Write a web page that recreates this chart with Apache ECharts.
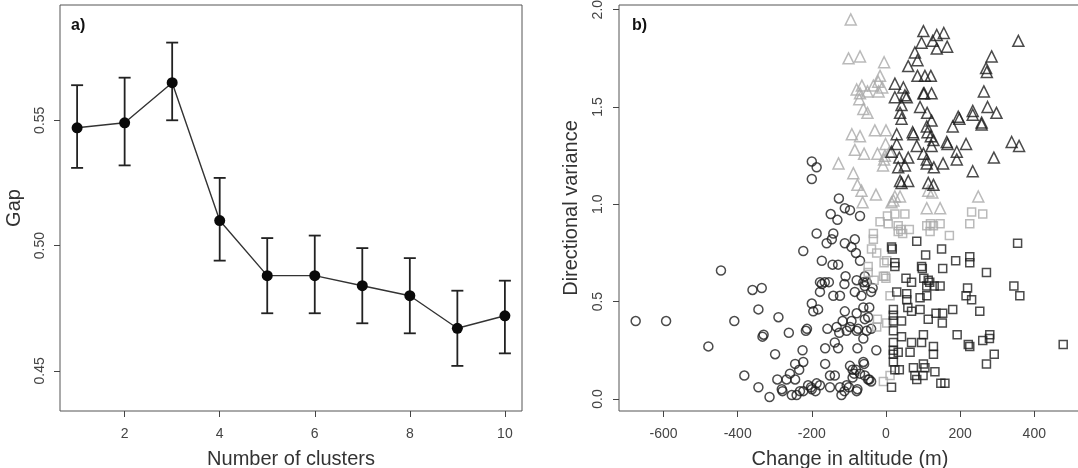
<!DOCTYPE html>
<html lang="en" style="height: 100%">
<head>
  <meta charset="utf-8">
</head>
<body style="height: 100%; margin: 0; background: #fff">
  <div id="container" style="width: 1078px; height: 468px"></div>

  <script type="text/javascript" src="https://cdn.jsdelivr.net/npm/echarts@6/dist/echarts.min.js"></script>
  <script type="text/javascript">

// ---- panel a) gap statistic ----
const clusters = [1, 2, 3, 4, 5, 6, 7, 8, 9, 10];
const gap      = [0.547, 0.549, 0.565, 0.510, 0.488, 0.488, 0.484, 0.480, 0.467, 0.472];
const gapLow   = [0.531, 0.532, 0.550, 0.494, 0.473, 0.473, 0.469, 0.465, 0.452, 0.457];
const gapHigh  = [0.564, 0.567, 0.581, 0.527, 0.503, 0.504, 0.499, 0.495, 0.482, 0.486];
const xTicksA = [2, 4, 6, 8, 10];
const yTicksA = [0.45, 0.50, 0.55];

// ---- panel b) change in altitude (m) vs directional variance ----
const circles = [
  [-675,0.40],[-593,0.40],[-445,0.66],[-479,0.27],[-409,0.40],[-382,0.12],[-360,0.56],[-335,0.57],
  [-344,0.46],[-333,0.32],[-330,0.33],[-344,0.06],[-314,0.01],[-290,0.42],[-299,0.23],[-293,0.10],
  [-262,0.34],[-279,0.04],[-216,0.35],[-213,0.36],[-225,0.25],[-200,0.49],[-196,0.45],[-183,0.46],
  [-178,0.60],[-154,0.60],[-178,0.55],[-142,0.53],[-124,0.53],[-112,0.59],[-84,0.55],[-66,0.53],
  [-57,0.58],[-52,0.60],[-111,0.45],[-117,0.40],[-93,0.40],[-79,0.44],[-61,0.47],[-57,0.41],
  [-133,0.37],[-158,0.36],[-126,0.34],[-106,0.35],[-97,0.37],[-79,0.35],[-52,0.35],[-138,0.29],
  [-129,0.26],[-164,0.26],[-77,0.26],[-61,0.31],[-164,0.18],[-223,0.19],[-245,0.18],[-234,0.15],
  [-259,0.13],[-268,0.10],[-281,0.05],[-254,0.02],[-241,0.02],[-223,0.04],[-202,0.06],[-187,0.08],
  [-178,0.07],[-200,0.05],[-151,0.06],[-151,0.12],[-138,0.12],[-124,0.06],[-112,0.04],[-106,0.07],
  [-79,0.04],[-97,0.17],[-90,0.15],[-81,0.15],[-70,0.13],[-61,0.19],[-48,0.10],[-57,0.12],
  [-245,0.10],[-232,0.04],[-210,0.07],[-190,0.04],[-120,0.02],[-90,0.11],[-86,0.13],[-100,0.06],
  [-40,0.09],[-26,0.25],[-45,0.10],[-59,0.18],[-77,0.05],
  [-200,1.22],[-187,1.19],[-200,1.13],[-127,1.03],[-111,0.98],[-97,0.97],[-70,0.94],[-149,0.95],
  [-131,0.92],[-187,0.85],[-142,0.85],[-146,0.82],[-160,0.80],[-111,0.80],[-84,0.82],[-93,0.78],
  [-81,0.75],[-223,0.76],[-173,0.71],[-144,0.69],[-129,0.69],[-70,0.71],[-109,0.63],[-79,0.61],
  [-57,0.63],[-61,0.60],[-173,0.59],[-165,0.60],[-40,0.55],[-45,0.47],[-48,0.42],[-40,0.36],
  [-75,0.36],[-36,0.57]
];
const triGrey = [
  [-95,1.95],[-101,1.75],[-70,1.76],[-5,1.73],[-16,1.66],[-65,1.61],[-34,1.61],[-21,1.63],
  [-50,1.58],[-70,1.57],[-72,1.54],[-61,1.49],[-50,1.47],[-79,1.59],[-92,1.36],[-70,1.35],
  [-30,1.38],[0,1.38],[-84,1.28],[-59,1.26],[-23,1.26],[-3,1.25],[-5,1.23],[-8,1.20],
  [-1,1.31],[-128,1.21],[-88,1.16],[-77,1.10],[-66,1.07],[-63,1.01],[-27,1.05],[15,1.01],
  [24,1.04],[38,1.04],[114,1.07],[110,0.98],[146,0.98],[249,1.04],[-10,1.60],[-20,1.58],
  [10,1.27],[125,1.06],[20,1.02]
];
const triDark = [
  [101,1.89],[137,1.87],[156,1.88],[126,1.84],[96,1.83],[165,1.81],[137,1.80],[78,1.78],
  [85,1.74],[60,1.71],[85,1.66],[105,1.66],[121,1.66],[24,1.62],[47,1.60],[51,1.56],
  [24,1.55],[56,1.55],[101,1.57],[103,1.57],[123,1.57],[42,1.51],[38,1.47],[92,1.50],
  [111,1.47],[42,1.44],[123,1.43],[195,1.45],[285,1.76],[270,1.70],[272,1.68],[357,1.84],
  [264,1.58],[274,1.50],[298,1.47],[234,1.48],[234,1.46],[258,1.42],[258,1.41],[198,1.44],
  [180,1.40],[216,1.31],[191,1.27],[191,1.23],[291,1.24],[234,1.17],[339,1.32],[359,1.30],
  [29,1.36],[29,1.31],[72,1.37],[74,1.36],[112,1.37],[121,1.35],[83,1.30],[123,1.30],
  [164,1.32],[166,1.31],[15,1.27],[36,1.24],[60,1.24],[101,1.26],[110,1.21],[110,1.23],
  [129,1.19],[154,1.21],[33,1.19],[51,1.20],[38,1.12],[42,1.11],[60,1.12],[114,1.11],
  [128,1.10],[110,1.40],[128,1.33]
];
const sqGrey = [
  [4,0.94],[24,0.95],[51,0.95],[-16,0.91],[6,0.90],[33,0.89],[33,0.86],[63,0.87],
  [110,0.89],[128,0.89],[146,0.90],[119,0.86],[171,0.84],[231,0.96],[261,0.95],[226,0.90],
  [-34,0.85],[-34,0.82],[-39,0.77],[-25,0.75],[2,0.71],[-48,0.68],[-48,0.65],[-7,0.63],
  [-2,0.63],[-32,0.61],[11,0.53],[-23,0.41],[-25,0.37],[2,0.39],[-7,0.09],[11,0.12],
  [40,0.87],[45,0.85],[120,0.90],[-5,0.70],[0,0.62]
];
const sqDark = [
  [15,0.78],[17,0.77],[83,0.81],[107,0.74],[150,0.77],[188,0.71],[226,0.73],[226,0.70],
  [271,0.65],[355,0.80],[24,0.70],[24,0.68],[96,0.68],[98,0.67],[153,0.67],[54,0.62],
  [69,0.60],[102,0.62],[114,0.61],[110,0.58],[146,0.58],[29,0.55],[56,0.54],[56,0.51],
  [92,0.52],[110,0.53],[220,0.57],[216,0.53],[231,0.51],[253,0.45],[345,0.58],[361,0.53],
  [20,0.46],[20,0.43],[42,0.40],[69,0.45],[92,0.46],[114,0.41],[135,0.44],[153,0.44],
  [152,0.39],[180,0.46],[20,0.35],[42,0.32],[69,0.29],[101,0.33],[96,0.29],[128,0.27],
  [128,0.23],[65,0.24],[20,0.29],[20,0.25],[20,0.23],[33,0.24],[192,0.33],[222,0.28],
  [226,0.27],[261,0.30],[280,0.33],[279,0.31],[292,0.23],[271,0.18],[478,0.28],[20,0.19],
  [24,0.15],[15,0.06],[74,0.16],[78,0.12],[83,0.10],[101,0.18],[105,0.16],[132,0.14],
  [148,0.08],[159,0.08],[20,0.40],[36,0.15],[130,0.58],[118,0.60],[59,0.47],[100,0.12]
];
const xTicksB = [-600, -400, -200, 0, 200, 400];
const yTicksB = [0, 0.5, 1.0, 1.5, 2.0];

var dom = document.getElementById('container');
var myChart = echarts.init(dom, null, { renderer: 'canvas' });

const FONT = '"Liberation Sans", Arial, sans-serif';
const dark = '#1e1e1e';
const grey = '#a9a9a9';

function axisCommon(ticks, fmt, rotate, margin) {
  return {
    axisLine: { show: false, onZero: false },
    axisTick: { show: true, length: 6, customValues: ticks, lineStyle: { color: '#444', width: 1 } },
    axisLabel: {
      customValues: ticks, formatter: fmt, rotate: rotate, margin: margin,
      color: '#444', fontSize: 14, fontFamily: FONT
    },
    splitLine: { show: false },
    nameTextStyle: { color: '#333', fontSize: 20, fontFamily: FONT }
  };
}

function hollow(color) {
  return { color: 'rgba(0,0,0,0)', borderColor: color, borderWidth: 1.5 };
}

var option = {
  animation: false,
  backgroundColor: '#fff',
  grid: [
    { left: 60, right: 556, top: 5, bottom: 57, outerBoundsMode: 'none', containLabel: false,
      show: true, borderColor: '#555', borderWidth: 1, backgroundColor: 'transparent' },
    { left: 619, right: -3, top: 5, bottom: 57, outerBoundsMode: 'none', containLabel: false,
      show: true, borderColor: '#555', borderWidth: 1, backgroundColor: 'transparent' }
  ],
  xAxis: [
    Object.assign(axisCommon(xTicksA, v => String(v), 0, 16), {
      type: 'value', gridIndex: 0, min: 0.64, max: 10.36,
      name: 'Number of clusters', nameLocation: 'middle', nameGap: 38
    }),
    Object.assign(axisCommon(xTicksB, v => String(v), 0, 16), {
      type: 'value', gridIndex: 1, min: -720, max: 526,
      name: 'Change in altitude (m)', nameLocation: 'middle', nameGap: 38
    })
  ],
  yAxis: [
    Object.assign(axisCommon(yTicksA, v => v.toFixed(2), 90, 13), {
      type: 'value', gridIndex: 0, min: 0.434, max: 0.596,
      name: 'Gap', nameLocation: 'middle', nameGap: 36
    }),
    Object.assign(axisCommon(yTicksB, v => v.toFixed(1), 90, 14), {
      type: 'value', gridIndex: 1, min: -0.062, max: 2.024,
      name: 'Directional variance', nameLocation: 'middle', nameGap: 38
    })
  ],
  graphic: [
    { type: 'text', left: 71, top: 18, style: { text: 'a)', font: 'bold 16px ' + FONT, fill: '#111' } },
    { type: 'text', left: 632, top: 18, style: { text: 'b)', font: 'bold 16px ' + FONT, fill: '#111' } }
  ],
  series: [
    {
      type: 'custom', xAxisIndex: 0, yAxisIndex: 0,
      data: clusters.map((c, i) => [c, gapLow[i], gapHigh[i]]),
      encode: { x: 0, y: [1, 2] },
      renderItem: function (params, api) {
        var x = api.value(0);
        var lo = api.coord([x, api.value(1)]);
        var hi = api.coord([x, api.value(2)]);
        var w = 6;
        var st = { stroke: '#222', lineWidth: 1.8 };
        return {
          type: 'group',
          children: [
            { type: 'line', shape: { x1: lo[0], y1: lo[1], x2: hi[0], y2: hi[1] }, style: st },
            { type: 'line', shape: { x1: lo[0] - w, y1: lo[1], x2: lo[0] + w, y2: lo[1] }, style: st },
            { type: 'line', shape: { x1: hi[0] - w, y1: hi[1], x2: hi[0] + w, y2: hi[1] }, style: st }
          ]
        };
      }
    },
    {
      type: 'line', xAxisIndex: 0, yAxisIndex: 0,
      data: clusters.map((c, i) => [c, gap[i]]),
      symbol: 'circle', symbolSize: 11,
      lineStyle: { color: '#333', width: 1.4 },
      itemStyle: { color: '#0a0a0a' }
    },
    { type: 'scatter', xAxisIndex: 1, yAxisIndex: 1, data: circles, symbol: 'circle', symbolSize: 9, itemStyle: hollow(dark) },
    { type: 'scatter', xAxisIndex: 1, yAxisIndex: 1, data: triGrey, symbol: 'triangle', symbolSize: 11, itemStyle: hollow(grey) },
    { type: 'scatter', xAxisIndex: 1, yAxisIndex: 1, data: triDark, symbol: 'triangle', symbolSize: 11, itemStyle: hollow(dark) },
    { type: 'scatter', xAxisIndex: 1, yAxisIndex: 1, data: sqGrey, symbol: 'rect', symbolSize: 8, itemStyle: hollow(grey) },
    { type: 'scatter', xAxisIndex: 1, yAxisIndex: 1, data: sqDark, symbol: 'rect', symbolSize: 8, itemStyle: hollow(dark) }
  ]
};

myChart.setOption(option);
window.addEventListener('resize', myChart.resize);
  </script>
</body>
</html>
